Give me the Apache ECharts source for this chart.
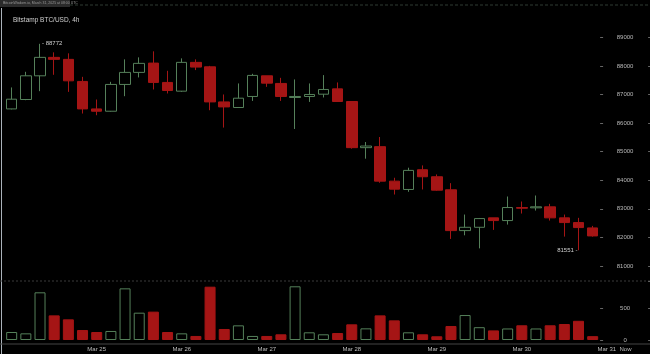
<!DOCTYPE html>
<html>
<head>
<meta charset="utf-8">
<script src="https://cdn.jsdelivr.net/npm/echarts@6/dist/echarts.min.js"></script>
<style>
html, body { margin: 0; padding: 0; background: #000; }
#chart { width: 650px; height: 354px; }
</style>
</head>
<body>
<div id="chart"></div>
<script>
// 4h candles, Mar 24 00:00 -> Mar 30 20:00
var days = ['Mar 24', 'Mar 25', 'Mar 26', 'Mar 27', 'Mar 28', 'Mar 29', 'Mar 30'];
var hours = ['00:00', '04:00', '08:00', '12:00', '16:00', '20:00'];
var extraLabels = ['Mar 31 00:00', 'Now'];

var openP  = [86495, 86824, 87653, 88298, 88228, 87456, 86495, 86414, 87351, 87772,
              88098, 87421, 87116, 88123, 87968, 86740, 86544, 86930, 87653, 87386,
              86895, 86930, 87010, 87196, 86754, 85140, 85175, 83968, 83677, 84368,
              84122, 83666, 82238, 82354, 82684, 82589, 83045, 83035, 83070, 82684,
              82519, 82333];
var closeP = [86835, 87653, 88298, 88228, 87477, 86495, 86414, 87351, 87772, 88088,
              87421, 87140, 88123, 87958, 86740, 86565, 86870, 87667, 87396, 86930,
              86930, 87000, 87175, 86754, 85140, 85196, 83968, 83687, 84344, 84122,
              83652, 82238, 82354, 82659, 82589, 83045, 83021, 83070, 82684, 82519,
              82344, 82052];
var lowP   = [86480, 86800, 87116, 87688, 87091, 86333, 86274, 86400, 86940, 87596,
              87175, 87035, 87091, 87853, 86449, 85842, 86530, 86775, 87267, 86775,
              85793, 86740, 86895, 86754, 85105, 84754, 83912, 83501, 83596, 83677,
              83631, 81947, 82073, 81617, 82263, 82449, 82835, 82940, 82589, 82028,
              81551, 82028];
var highP  = [87246, 87793, 88772, 88474, 88439, 87617, 86824, 87442, 88228, 88298,
              88509, 87828, 88263, 88228, 88000, 87000, 87386, 87723, 87653, 87582,
              87526, 87386, 87677, 87421, 86754, 85337, 85512, 84087, 84438, 84519,
              84203, 83898, 82800, 82680, 82684, 83431, 83256, 83466, 83175, 82800,
              82684, 82403];
var volume = [125, 104, 745, 385, 323, 156, 125, 141, 807, 427,
              443, 125, 104, 63, 833, 172, 229, 63, 63, 89,
              839, 120, 89, 109, 245, 182, 385, 307, 120, 89,
              58, 219, 390, 200, 150, 180, 230, 180, 230, 250,
              300, 60];

var priceTicks = { min: 81000, max: 89000, step: 1000 };
var volTicks = { min: 0, max: 922, step: 500 };

var categories = [];
days.forEach(function (d) {
  hours.forEach(function (h) { categories.push(d + ' ' + h); });
});
categories = categories.concat(extraLabels);
var lastIdx = categories.length - 1;

var UP = '#55805a', DOWN = '#a51515';
var FONT = 'Liberation Sans';

var candles = openP.map(function (o, i) {
  return [o, closeP[i], lowP[i], highP[i]];
});
var volBars = volume.map(function (v, i) {
  var up = closeP[i] >= openP[i];
  return {
    value: v,
    itemStyle: up ? { color: '#000', borderColor: UP, borderWidth: 1 }
                  : { color: DOWN, borderColor: DOWN, borderWidth: 1 }
  };
});

var myChart = echarts.init(document.getElementById('chart'));

var gridLeft = 4.6, gridWidth = 623.5;
var plain = function (v) { return String(v); };
var dateLabel = { color: '#bdbdbd', fontSize: 6, fontFamily: FONT, margin: 2 };

option = {
  backgroundColor: '#000',
  animation: false,
  title: {
    text: 'Bitstamp BTC/USD, 4h',
    left: 8, top: 12,
    textStyle: { color: '#cfcfcf', fontSize: 6.5, fontWeight: 'normal', fontFamily: FONT }
  },
  grid: [
    { left: gridLeft, width: gridWidth, top: 37.3, height: 228.7 },
    { left: gridLeft, width: gridWidth, top: 281, height: 59 }
  ],
  xAxis: [
    { type: 'category', gridIndex: 0, data: categories, show: false, boundaryGap: true },
    {
      type: 'category', gridIndex: 1, data: categories, boundaryGap: true,
      position: 'bottom', offset: 4,
      axisLine: { show: false },
      axisTick: { show: false },
      axisLabel: Object.assign({}, dateLabel, {
        interval: function (idx) { return idx > 0 && idx < lastIdx && idx % 6 === 0; },
        formatter: function (v) { return v.slice(0, 6); }
      })
    },
    {
      type: 'category', gridIndex: 1, data: categories, boundaryGap: true,
      position: 'bottom', offset: 4,
      axisLine: { show: false },
      axisTick: { show: false },
      axisLabel: Object.assign({}, dateLabel, {
        interval: function (idx) { return idx === lastIdx; },
        formatter: function (v) { return '{n|' + v + '}'; },
        rich: { n: { padding: [0, 0, 0, 9], color: '#bdbdbd', fontSize: 6, fontFamily: FONT } }
      })
    }
  ],
  yAxis: [
    {
      type: 'value', gridIndex: 0, position: 'right', offset: -28,
      min: priceTicks.min, max: priceTicks.max, interval: priceTicks.step,
      axisLine: { show: false },
      axisTick: { show: true, length: 3, lineStyle: { color: '#666' } },
      splitLine: { show: false },
      axisLabel: { color: '#b8b8b8', fontSize: 6, fontFamily: FONT, align: 'center', margin: 25, formatter: plain }
    },
    {
      type: 'value', gridIndex: 1, position: 'right', offset: -28,
      min: volTicks.min, max: volTicks.max, interval: volTicks.step,
      axisLine: { show: false },
      axisTick: { show: true, length: 3, lineStyle: { color: '#666' } },
      splitLine: { show: false },
      axisLabel: { color: '#b8b8b8', fontSize: 6, fontFamily: FONT, align: 'center', margin: 25,
                   showMaxLabel: false, formatter: plain }
    },
    {
      type: 'value', gridIndex: 0, position: 'right', offset: 20,
      min: priceTicks.min, max: priceTicks.max, interval: priceTicks.step,
      axisLine: { show: false }, axisLabel: { show: false }, splitLine: { show: false },
      axisTick: { show: true, length: 2, lineStyle: { color: '#666' } }
    },
    {
      type: 'value', gridIndex: 1, position: 'right', offset: 20,
      min: volTicks.min, max: volTicks.max, interval: volTicks.step,
      axisLine: { show: false }, axisLabel: { show: false }, splitLine: { show: false },
      axisTick: { show: true, length: 2, lineStyle: { color: '#666' } }
    }
  ],
  series: [
    {
      name: 'BTC/USD',
      type: 'candlestick',
      xAxisIndex: 0, yAxisIndex: 0,
      barWidth: 11,
      data: candles,
      itemStyle: {
        color: '#000', color0: DOWN,
        borderColor: UP, borderColor0: DOWN, borderWidth: 1
      },
      markPoint: {
        symbol: 'circle', symbolSize: 0,
        data: [
          { coord: [2, 88772], value: 88772,
            label: { position: 'right', distance: 2, formatter: '- {c}' } },
          { coord: [40, 81551], value: 81551,
            label: { position: 'left', distance: 1, formatter: '{c} -' } }
        ],
        label: { show: true, color: '#cfcfcf', fontSize: 6, fontFamily: FONT }
      }
    },
    {
      name: 'Volume',
      type: 'bar',
      xAxisIndex: 1, yAxisIndex: 1,
      barWidth: 11,
      data: volBars
    }
  ],
  graphic: [
    { type: 'rect', shape: { x: 0, y: 0, width: 70, height: 7 }, style: { fill: '#2b2b2b' } },
    { type: 'text', left: 3, top: 1,
      style: { text: 'BitcoinWisdom.io, March 31, 2025 at 08:00 UTC', fill: '#9a9a9a', fontSize: 3.5, fontFamily: FONT } },
    { type: 'line', shape: { x1: 70, y1: 5, x2: 650, y2: 5 },
      style: { stroke: '#2e3a33', lineWidth: 1, lineDash: [3, 2] } },
    { type: 'line', shape: { x1: 1.5, y1: 8, x2: 1.5, y2: 354 },
      style: { stroke: '#aab2ba', lineWidth: 1 } },
    { type: 'line', shape: { x1: 0, y1: 281, x2: 650, y2: 281 },
      style: { stroke: '#3a3a3a', lineWidth: 1, lineDash: [2, 2] } },
    { type: 'line', shape: { x1: 0, y1: 344, x2: 650, y2: 344 },
      style: { stroke: '#444', lineWidth: 1 } }
  ]
};

myChart.setOption(option);
</script>
</body>
</html>
